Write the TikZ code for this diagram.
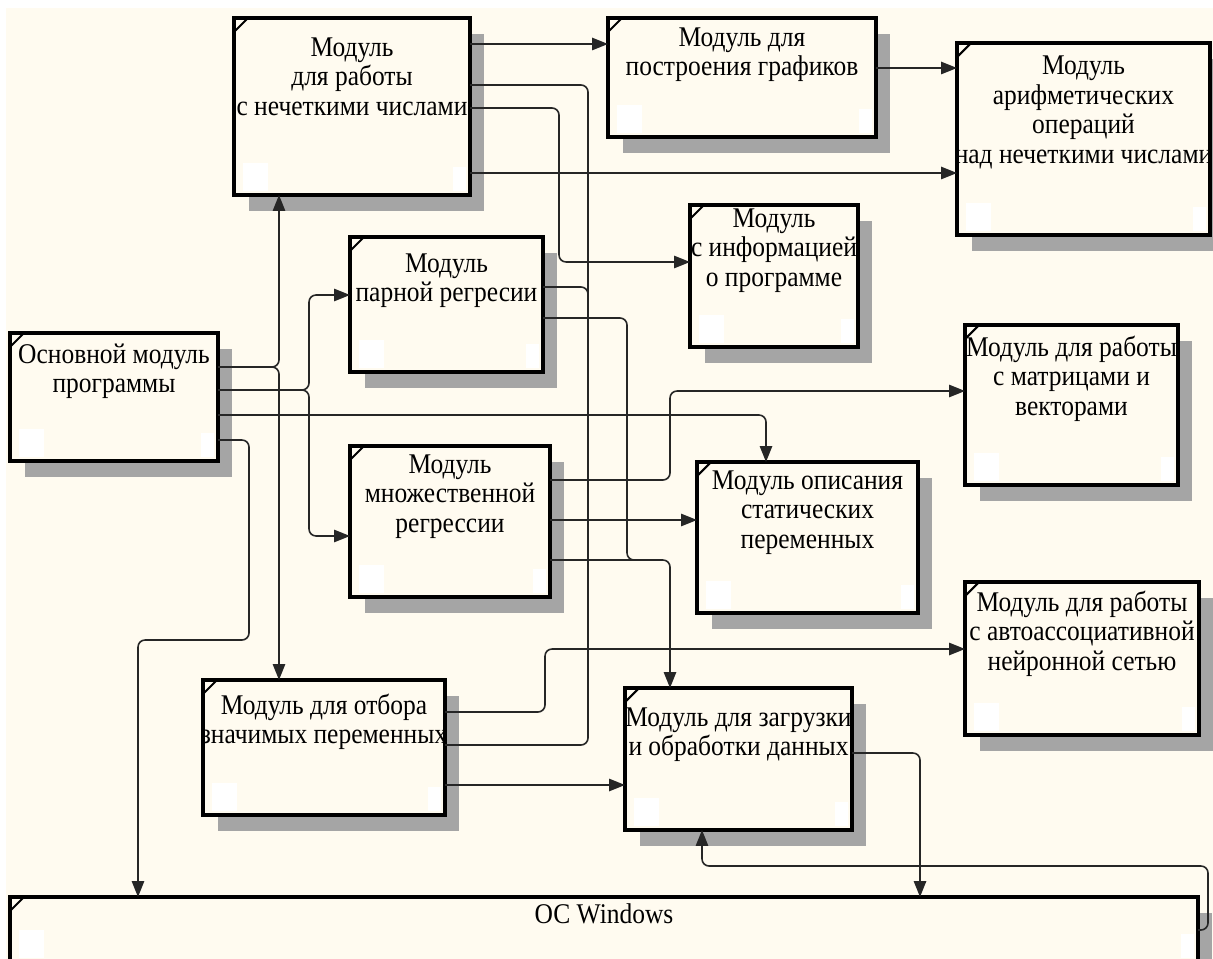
\documentclass[tikz,border=0pt]{standalone}
\usepackage{fontspec}
\setmainfont{Liberation Serif}
\usetikzlibrary{arrows.meta}
\definecolor{cream}{RGB}{255,251,240}
\definecolor{shadowgray}{RGB}{165,165,165}
\newcommand\mkbox[7]{%
  \fill[shadowgray] (#2+15,#3+16) rectangle (#4+14,#5+16);
  \node[boxst, minimum width={(#4-#2)*0.02cm}, minimum height={(#5-#3)*0.02cm}] (#1) at ({(#2+#4)/2},{(#3+#5)/2}) {};
  \fill[white] (#2+9,#5-32) rectangle (#2+34,#5-4);
  \fill[white] (#4-17,#5-28) rectangle (#4-4,#5-4);
  \draw[line width=1.2pt] (#2+1,#3+13) -- (#2+13,#3+1);
  \node[lbl] (#1t) at ({(#2+#4)/2},{#6+3}) {\scalebox{1}[1.12]{\begin{tabular}{@{}c@{}}#7\end{tabular}}};
}
\begin{document}
\begin{tikzpicture}[x=0.02cm,y=-0.02cm,
  boxst/.style={draw=black, line width=2pt, fill=cream, inner sep=0pt, outer sep=0pt},
  lbl/.style={align=center, inner sep=0pt, text=black, font=\fontsize{14.5}{15.2}\selectfont},
  conn/.style={draw=black!85, line width=0.9pt, rounded corners=4pt},
  arr/.style={conn, -{Triangle[length=9pt,width=7pt]}}]
\useasboundingbox (0,0) rectangle (1213,959);
\fill[white] (0,0) rectangle (1213,959);
\fill[cream] (6,8) rectangle (1213,959);

\mkbox{fuzzy}{234}{18}{470}{195}{77}{Модуль\\для работы\\с нечеткими числами}
\mkbox{graphs}{608}{18}{876}{137}{52}{Модуль для\\построения графиков}
\mkbox{arith}{957}{43}{1210}{235}{110}{Модуль\\арифметических\\операций\\над нечеткими числами}
\mkbox{info}{690}{205}{858}{347}{248}{Модуль\\с информацией\\о программе}
\mkbox{pair}{350}{237}{543}{372}{278}{Модуль\\парной регресии}
\mkbox{main}{10}{333}{218}{461}{369}{Основной модуль\\программы}
\mkbox{multi}{350}{446}{550}{597}{494}{Модуль\\множественной\\регрессии}
\mkbox{matrix}{965}{325}{1178}{485}{377}{Модуль для работы\\с матрицами и\\векторами}
\mkbox{stat}{697}{462}{918}{613}{510}{Модуль описания\\статических\\переменных}
\mkbox{auto}{965}{582}{1199}{735}{632}{Модуль для работы\\с автоассоциативной\\нейронной сетью}
\mkbox{select}{203}{680}{445}{815}{720}{Модуль для отбора\\значимых переменных}
\mkbox{load}{625}{688}{852}{830}{732}{Модуль для загрузки\\и обработки данных}
\mkbox{os}{10}{897}{1198}{962}{915}{ОС Windows}

\draw[arr] (fuzzy.east |- 0,44) -- (graphs.west |- 0,44);
\draw[arr] (fuzzy.east |- 0,173) -- (arith.west |- 0,173);
\draw[arr] (graphs.east |- 0,68) -- (arith.west |- 0,68);
\draw[arr] (fuzzy.east |- 0,108) -- (559,108) -- (559,262) -- (info.west |- 0,262);
\draw[conn] (fuzzy.east |- 0,85) -- (588,85) -- (588,745) -- (select.east |- 0,745);
\draw[conn] (pair.east |- 0,287) -- (588,287) -- (588,312);
\draw[conn] (pair.east |- 0,318) -- (627,318) -- (627,560) -- (660,560);
\draw[arr] (multi.east |- 0,560) -- (670,560) -- (load.north -| 670,0);
\draw[arr] (multi.east |- 0,480) -- (670,480) -- (670,391) -- (matrix.west |- 0,391);
\draw[arr] (multi.east |- 0,520) -- (stat.west |- 0,520);
\draw[arr] (main.east |- 0,367) -- (279,367) -- (fuzzy.south -| 279,0);
\draw[arr] (main.east |- 0,367) -- (279,367) -- (select.north -| 279,0);
\draw[arr] (main.east |- 0,390) -- (309,390) -- (309,295) -- (pair.west |- 0,295);
\draw[arr] (main.east |- 0,390) -- (309,390) -- (309,536) -- (multi.west |- 0,536);
\draw[arr] (main.east |- 0,415) -- (766,415) -- (stat.north -| 766,0);
\draw[arr] (main.east |- 0,440) -- (249,440) -- (249,640) -- (138,640) -- (os.north -| 138,0);
\draw[arr] (select.east |- 0,712) -- (545,712) -- (545,649) -- (auto.west |- 0,649);
\draw[arr] (select.east |- 0,785) -- (load.west |- 0,785);
\draw[arr] (load.east |- 0,753) -- (920,753) -- (os.north -| 920,0);
\draw[arr] (os.east |- 0,930) -- (1208,930) -- (1208,866) -- (702,866) -- (load.south -| 702,0);
\end{tikzpicture}
\end{document}
